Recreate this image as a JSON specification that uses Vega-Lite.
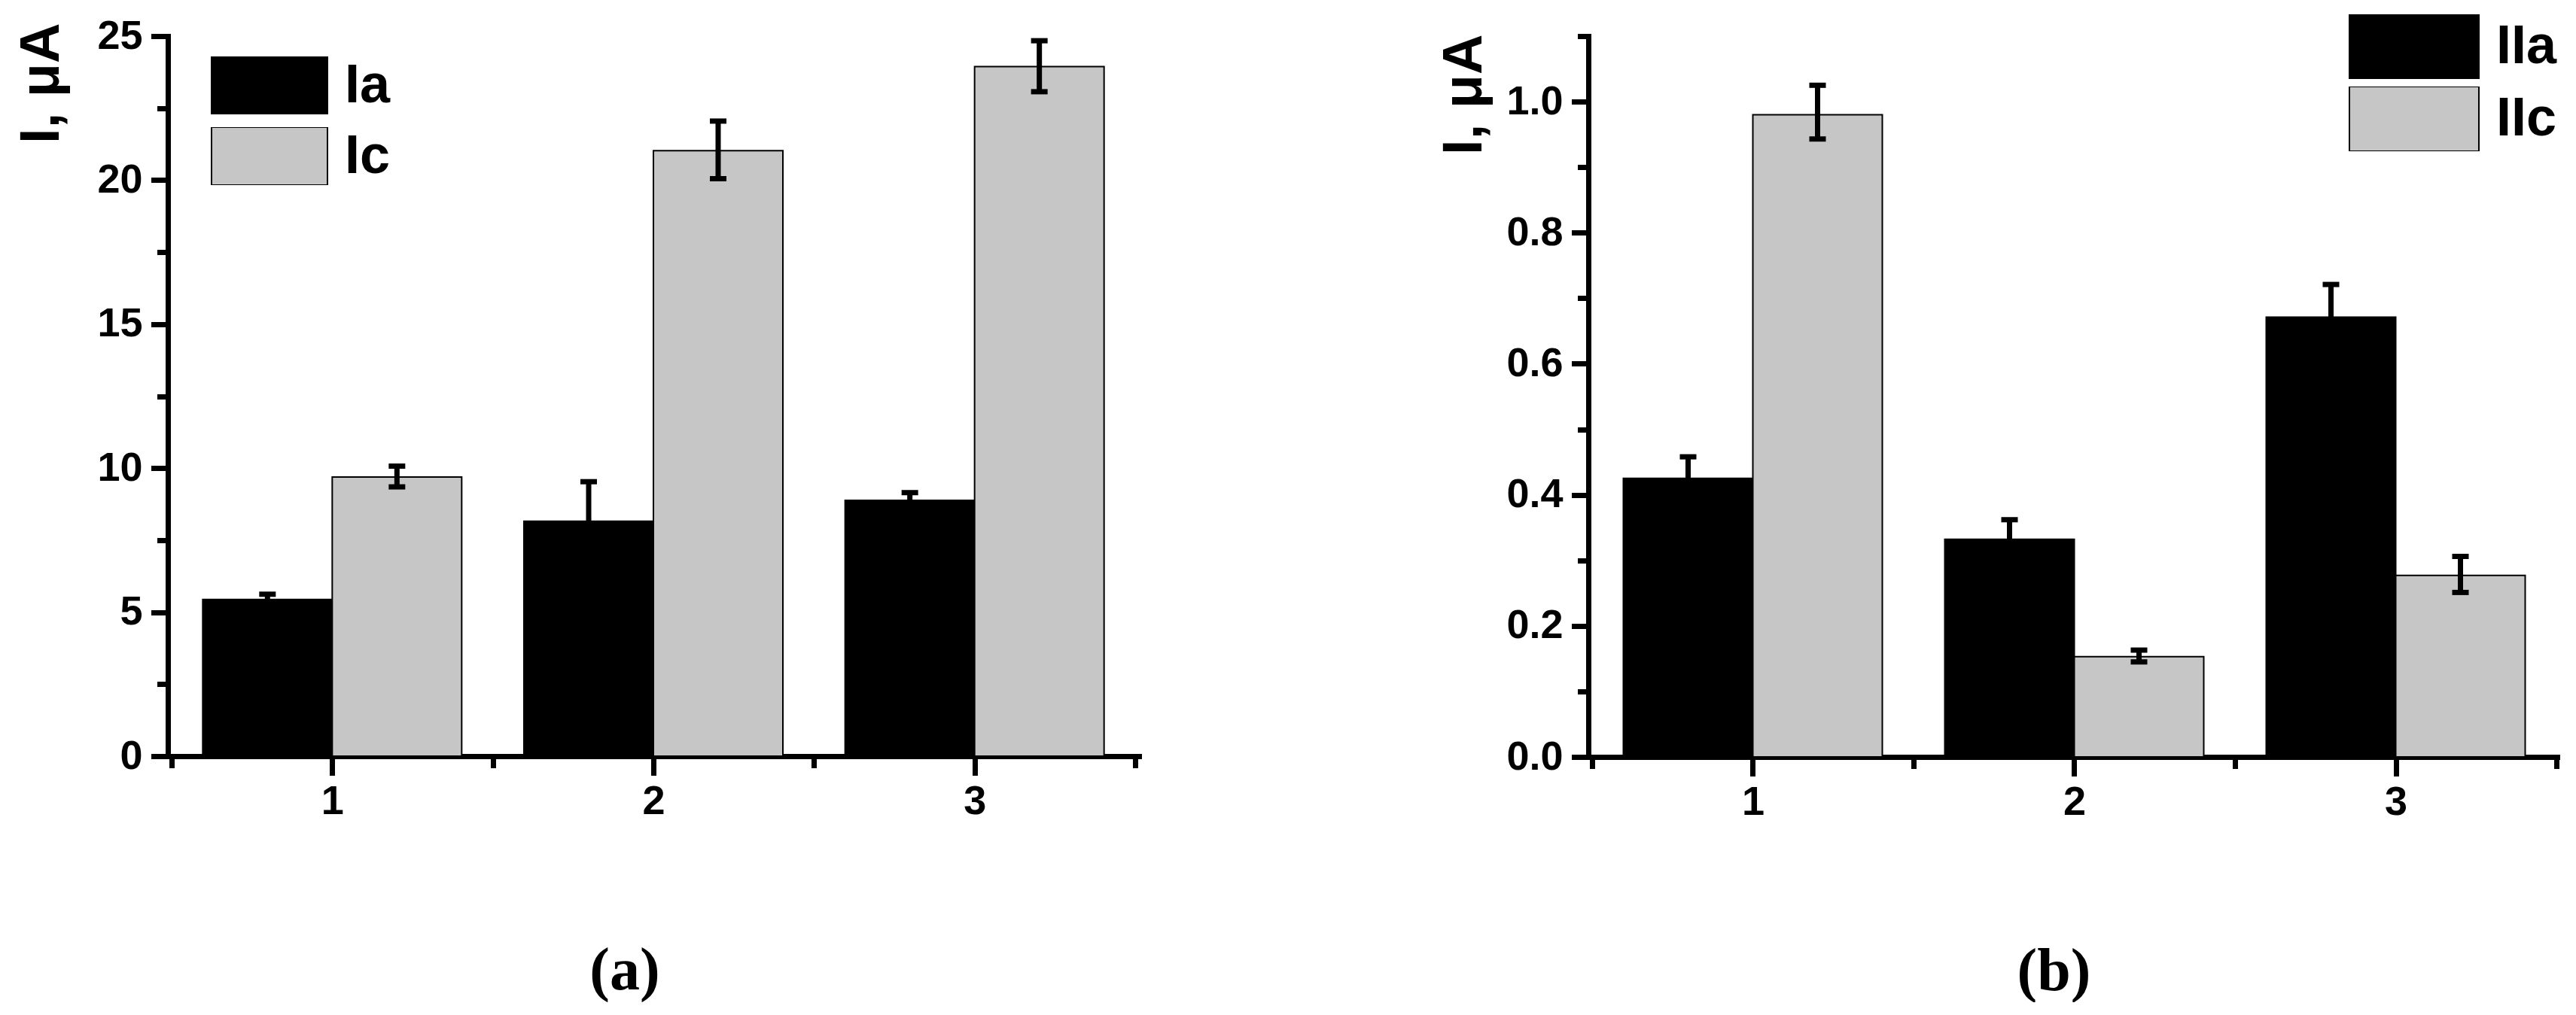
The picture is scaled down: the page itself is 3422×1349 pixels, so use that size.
{
  "$schema": "https://vega.github.io/schema/vega-lite/v6.json",
  "background": "white",
  "padding": {"left": 18, "top": 19, "right": 0, "bottom": 0},
  "autosize": {"type": "pad"},
  "spacing": 597,
  "bounds": "flush",
  "resolve": {"scale": {"color": "independent"}, "legend": {"color": "independent"}},
  "config": {
    "view": {"stroke": null},
    "font": "Liberation Sans",
    "axis": {
      "domainColor": "black", "domainWidth": 7, "domainCap": "square",
      "tickColor": "black", "tickWidth": 7, "tickCap": "square",
      "labelFont": "Liberation Sans", "labelFontSize": 54, "labelFontWeight": "bold", "labelColor": "black",
      "titleFont": "Liberation Sans", "titleFontSize": 74, "titleFontWeight": "bold", "titleColor": "black",
      "grid": false
    },
    "legend": {
      "orient": "none", "title": null, "padding": 0,
      "symbolType": "M-1,-0.5H1V0.5H-1Z",
      "symbolStrokeColor": "black", "symbolStrokeWidth": 2, "symbolOpacity": 1,
      "labelFont": "Liberation Sans", "labelFontSize": 72, "labelFontWeight": "bold", "labelColor": "black",
      "labelLimit": 0, "labelOffset": 22
    },
    "title": {"font": "Liberation Serif", "fontSize": 80, "fontWeight": "bold", "color": "black"},
    "bar": {"stroke": "black", "strokeWidth": 2, "opacity": 1, "width": 172},
    "rule": {"color": "black", "strokeWidth": 7},
    "tick": {"color": "black", "thickness": 7, "size": 22, "opacity": 1, "orient": "horizontal"}
  },
  "datasets": {
    "a": [
      {"group": 1, "series": "Ia", "value": 5.44, "lo": 5.26, "hi": 5.62},
      {"group": 2, "series": "Ia", "value": 8.16, "lo": 6.79, "hi": 9.53},
      {"group": 3, "series": "Ia", "value": 8.88, "lo": 8.61, "hi": 9.15},
      {"group": 1, "series": "Ic", "value": 9.69, "lo": 9.35, "hi": 10.07},
      {"group": 2, "series": "Ic", "value": 21.02, "lo": 20.05, "hi": 22.05},
      {"group": 3, "series": "Ic", "value": 23.94, "lo": 23.07, "hi": 24.84}
    ],
    "b": [
      {"group": 1, "series": "IIa", "value": 0.425, "lo": 0.392, "hi": 0.458},
      {"group": 2, "series": "IIa", "value": 0.332, "lo": 0.302, "hi": 0.362},
      {"group": 3, "series": "IIa", "value": 0.671, "lo": 0.621, "hi": 0.721},
      {"group": 1, "series": "IIc", "value": 0.980, "lo": 0.943, "hi": 1.025},
      {"group": 2, "series": "IIc", "value": 0.153, "lo": 0.145, "hi": 0.163},
      {"group": 3, "series": "IIc", "value": 0.277, "lo": 0.251, "hi": 0.306}
    ]
  },
  "hconcat": [
    {
      "width": 1290, "height": 957,
      "data": {"name": "a"},
      "title": {"text": "(a)", "orient": "bottom", "anchor": "middle", "frame": "group", "offset": 160, "dx": -38},
      "encoding": {
        "x": {"field": "group", "type": "quantitative", "scale": {"domain": [0.5, 3.5], "nice": false, "zero": false},
              "axis": {"title": null, "values": [0.5, 1, 1.5, 2, 2.5, 3, 3.5],
                       "labelExpr": "datum.value % 1 === 0 ? format(datum.value, 'd') : ''",
                       "tickSize": {"condition": {"test": "datum.value % 1 !== 0", "value": 12}, "value": 22},
                       "labelPadding": 11}},
        "y": {"field": "value", "type": "quantitative", "scale": {"domain": [0, 25], "nice": false},
              "axis": {"title": "I, μA", "values": [0, 2.5, 5, 7.5, 10, 12.5, 15, 17.5, 20, 22.5, 25],
                       "labelExpr": "datum.value % 5 === 0 ? format(datum.value, 'd') : ''",
                       "tickSize": {"condition": {"test": "datum.value % 5 !== 0", "value": 11}, "value": 19},
                       "labelPadding": 15,
                       "titleAngle": -90, "titleAlign": "right", "titleBaseline": "alphabetic", "titleX": -146, "titleY": -18}}
      },
      "layer": [
        {
          "transform": [{"filter": "datum.series === 'Ia'"}],
          "mark": {"type": "bar", "xOffset": -86},
          "encoding": {
            "color": {"field": "series", "type": "nominal", "scale": {"domain": ["Ia", "Ic"], "range": ["#000000", "#c6c6c6"]},
                      "legend": {"legendX": 57, "legendY": 27, "symbolSize": 23716, "clipHeight": 77, "rowPadding": 17}}
          }
        },
        {
          "transform": [{"filter": "datum.series === 'Ic'"}],
          "mark": {"type": "bar", "xOffset": 86},
          "encoding": {
            "color": {"field": "series", "type": "nominal", "scale": {"domain": ["Ia", "Ic"], "range": ["#000000", "#c6c6c6"]},
                      "legend": {"legendX": 57, "legendY": 27, "symbolSize": 23716, "clipHeight": 77, "rowPadding": 17}}
          }
        },
        {
          "transform": [{"filter": "datum.series === 'Ia'"}],
          "mark": {"type": "rule", "xOffset": -86},
          "encoding": {"y": {"field": "lo", "type": "quantitative"}, "y2": {"field": "hi"}}
        },
        {
          "transform": [{"filter": "datum.series === 'Ic'"}],
          "mark": {"type": "rule", "xOffset": 86},
          "encoding": {"y": {"field": "lo", "type": "quantitative"}, "y2": {"field": "hi"}}
        },
        {
          "transform": [{"filter": "datum.series === 'Ia'"}],
          "mark": {"type": "tick", "xOffset": -86},
          "encoding": {"y": {"field": "hi", "type": "quantitative"}}
        },
        {
          "transform": [{"filter": "datum.series === 'Ia'"}],
          "mark": {"type": "tick", "xOffset": -86},
          "encoding": {"y": {"field": "lo", "type": "quantitative"}}
        },
        {
          "transform": [{"filter": "datum.series === 'Ic'"}],
          "mark": {"type": "tick", "xOffset": 86},
          "encoding": {"y": {"field": "hi", "type": "quantitative"}}
        },
        {
          "transform": [{"filter": "datum.series === 'Ic'"}],
          "mark": {"type": "tick", "xOffset": 86},
          "encoding": {"y": {"field": "lo", "type": "quantitative"}}
        }
      ]
    },
    {
      "width": 1291, "height": 958,
      "data": {"name": "b"},
      "title": {"text": "(b)", "orient": "bottom", "anchor": "middle", "frame": "group", "offset": 160, "dx": -27},
      "encoding": {
        "x": {"field": "group", "type": "quantitative", "scale": {"domain": [0.5, 3.5], "nice": false, "zero": false},
              "axis": {"title": null, "values": [0.5, 1, 1.5, 2, 2.5, 3, 3.5],
                       "labelExpr": "datum.value % 1 === 0 ? format(datum.value, 'd') : ''",
                       "tickSize": {"condition": {"test": "datum.value % 1 !== 0", "value": 12}, "value": 22},
                       "labelPadding": 11}},
        "y": {"field": "value", "type": "quantitative", "scale": {"domain": [0, 1.1], "nice": false},
              "axis": {"title": "I, μA", "values": [0, 0.1, 0.2, 0.3, 0.4, 0.5, 0.6, 0.7, 0.8, 0.9, 1.0, 1.1],
                       "labelExpr": "round(datum.value * 10) % 2 === 0 ? format(datum.value, '.1f') : ''",
                       "tickSize": {"condition": {"test": "round(datum.value * 10) % 2 !== 0", "value": 11}, "value": 19},
                       "labelPadding": 15,
                       "titleAngle": -90, "titleAlign": "right", "titleBaseline": "alphabetic", "titleX": -143, "titleY": -3}}
      },
      "layer": [
        {
          "transform": [{"filter": "datum.series === 'IIa'"}],
          "mark": {"type": "bar", "xOffset": -86},
          "encoding": {
            "color": {"field": "series", "type": "nominal", "scale": {"domain": ["IIa", "IIc"], "range": ["#000000", "#c6c6c6"]},
                      "legend": {"legendX": 1010, "legendY": -29, "symbolSize": 29584, "clipHeight": 86, "rowPadding": 10}}
          }
        },
        {
          "transform": [{"filter": "datum.series === 'IIc'"}],
          "mark": {"type": "bar", "xOffset": 86},
          "encoding": {
            "color": {"field": "series", "type": "nominal", "scale": {"domain": ["IIa", "IIc"], "range": ["#000000", "#c6c6c6"]},
                      "legend": {"legendX": 1010, "legendY": -29, "symbolSize": 29584, "clipHeight": 86, "rowPadding": 10}}
          }
        },
        {
          "transform": [{"filter": "datum.series === 'IIa'"}],
          "mark": {"type": "rule", "xOffset": -86},
          "encoding": {"y": {"field": "lo", "type": "quantitative"}, "y2": {"field": "hi"}}
        },
        {
          "transform": [{"filter": "datum.series === 'IIc'"}],
          "mark": {"type": "rule", "xOffset": 86},
          "encoding": {"y": {"field": "lo", "type": "quantitative"}, "y2": {"field": "hi"}}
        },
        {
          "transform": [{"filter": "datum.series === 'IIa'"}],
          "mark": {"type": "tick", "xOffset": -86},
          "encoding": {"y": {"field": "hi", "type": "quantitative"}}
        },
        {
          "transform": [{"filter": "datum.series === 'IIa'"}],
          "mark": {"type": "tick", "xOffset": -86},
          "encoding": {"y": {"field": "lo", "type": "quantitative"}}
        },
        {
          "transform": [{"filter": "datum.series === 'IIc'"}],
          "mark": {"type": "tick", "xOffset": 86},
          "encoding": {"y": {"field": "hi", "type": "quantitative"}}
        },
        {
          "transform": [{"filter": "datum.series === 'IIc'"}],
          "mark": {"type": "tick", "xOffset": 86},
          "encoding": {"y": {"field": "lo", "type": "quantitative"}}
        }
      ]
    }
  ]
}
